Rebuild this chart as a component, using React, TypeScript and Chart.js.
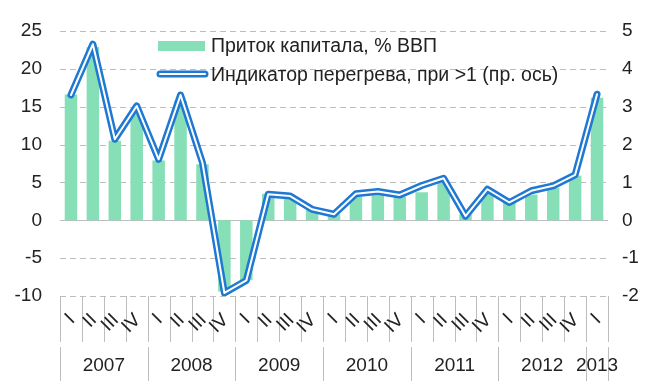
import React, { useEffect, useRef } from "react";
import { Chart, registerables } from "chart.js";

Chart.register(...registerables);

const quarters = [
  "I", "II", "III", "IV",
  "I", "II", "III", "IV",
  "I", "II", "III", "IV",
  "I", "II", "III", "IV",
  "I", "II", "III", "IV",
  "I", "II", "III", "IV",
  "I",
];
const years = ["2007", "2008", "2009", "2010", "2011", "2012", "2013"];
const quartersPerYear = [4, 4, 4, 4, 4, 4, 1];

const capitalInflow = [
  16.6, 22.9, 10.5, 14.0, 7.9, 15.8, 7.4, -9.4, -7.9,
  3.5, 2.8, 1.4, 0.8, 3.1, 3.3, 3.1, 3.7, 5.0, 0.8, 3.9, 2.3, 3.4, 4.3, 5.9, 16.2,
];
const overheatIndicator = [
  3.31, 4.65, 2.14, 3.02, 1.61, 3.31, 1.52, -1.92, -1.59,
  0.69, 0.64, 0.29, 0.16, 0.7, 0.76, 0.67, 0.92, 1.11, 0.11, 0.82, 0.47, 0.78, 0.91, 1.2, 3.33,
];

const legendLabels = ["Приток капитала, % ВВП", "Индикатор перегрева, при >1 (пр. ось)"];

const FONT = "'Liberation Sans', Arial, sans-serif";
const GREEN = "#86dfb6";
const BLUE = "#1f78d1";
const TEXT = "#222222";
const GRID = "#bdbdbd";

const gridPlugin = {
  id: "customGrid",
  beforeDatasetsDraw(chart: any) {
    const { ctx, chartArea, scales } = chart;
    const y = scales.y;
    ctx.save();
    ctx.lineWidth = 1;
    ctx.strokeStyle = GRID;
    y.ticks.forEach((t: any) => {
      const py = Math.round(y.getPixelForValue(t.value)) + 0.5;
      ctx.setLineDash(t.value === 0 ? [] : [6, 4]);
      ctx.beginPath();
      ctx.moveTo(chartArea.left, py);
      ctx.lineTo(chartArea.right, py);
      ctx.stroke();
    });
    ctx.restore();
  },
};

const axisPlugin = {
  id: "twoLevelAxis",
  afterDraw(chart: any) {
    const { ctx, chartArea, scales } = chart;
    const x = scales.x;
    const step = x.getPixelForValue(1) - x.getPixelForValue(0);
    const b = (i: number) => x.getPixelForValue(i) - step / 2;
    const top = chartArea.bottom;
    ctx.save();
    ctx.strokeStyle = GRID;
    ctx.lineWidth = 1;
    ctx.setLineDash([]);
    for (let i = 0; i <= quarters.length; i++) {
      const px = Math.round(b(i)) + 0.5;
      ctx.beginPath();
      ctx.moveTo(px, top);
      ctx.lineTo(px, top + 46);
      ctx.stroke();
    }
    let idx = 0;
    const yearBounds = [0];
    quartersPerYear.forEach((q) => {
      idx += q;
      yearBounds.push(idx);
    });
    yearBounds.forEach((k) => {
      const px = Math.round(b(k)) + 0.5;
      ctx.beginPath();
      ctx.moveTo(px, top + 51);
      ctx.lineTo(px, top + 85);
      ctx.stroke();
    });
    ctx.fillStyle = TEXT;
    ctx.font = `19px ${FONT}`;
    quarters.forEach((q, i) => {
      const px = x.getPixelForValue(i);
      ctx.save();
      ctx.translate(px + 1, top + 21);
      ctx.rotate(-Math.PI / 4);
      ctx.textAlign = "right";
      ctx.textBaseline = "middle";
      ctx.fillText(q, 0, 0);
      ctx.restore();
    });
    ctx.textAlign = "center";
    ctx.textBaseline = "middle";
    years.forEach((yr, i) => {
      const cx = (b(yearBounds[i]) + b(yearBounds[i + 1])) / 2;
      ctx.fillText(yr, cx, top + 70);
    });
    ctx.restore();
  },
};

const legendPlugin = {
  id: "customLegend",
  afterDraw(chart: any) {
    const { ctx } = chart;
    ctx.save();
    ctx.fillStyle = GREEN;
    ctx.fillRect(158, 41, 47, 10);
    ctx.lineCap = "round";
    ctx.lineJoin = "round";
    ctx.strokeStyle = BLUE;
    ctx.lineWidth = 7;
    ctx.beginPath();
    ctx.moveTo(160, 74);
    ctx.lineTo(205, 74);
    ctx.stroke();
    ctx.strokeStyle = "#ffffff";
    ctx.lineWidth = 2;
    ctx.beginPath();
    ctx.moveTo(160, 74);
    ctx.lineTo(205, 74);
    ctx.stroke();
    ctx.fillStyle = TEXT;
    ctx.font = `19.5px ${FONT}`;
    ctx.textAlign = "left";
    ctx.textBaseline = "middle";
    ctx.fillText(legendLabels[0], 211, 47);
    ctx.fillText(legendLabels[1], 211, 76);
    ctx.restore();
  },
};

export default function App() {
  const ref = useRef<HTMLCanvasElement | null>(null);
  useEffect(() => {
    document.body.style.margin = "0";
    const canvas = ref.current;
    if (!canvas) return;
    const chart = new Chart(canvas, {
      type: "bar",
      data: {
        labels: quarters.map((q, i) => `${q}-${i}`),
        datasets: [
          {
            type: "line",
            label: "inner",
            data: overheatIndicator,
            yAxisID: "y1",
            borderColor: "#ffffff",
            borderWidth: 2,
            pointRadius: 0,
            tension: 0,
            borderJoinStyle: "round",
            borderCapStyle: "round",
            order: 0,
          } as any,
          {
            type: "line",
            label: legendLabels[1],
            data: overheatIndicator,
            yAxisID: "y1",
            borderColor: BLUE,
            borderWidth: 7,
            pointRadius: 0,
            tension: 0,
            borderJoinStyle: "round",
            borderCapStyle: "round",
            order: 1,
          } as any,
          {
            type: "bar",
            label: legendLabels[0],
            data: capitalInflow,
            yAxisID: "y",
            backgroundColor: GREEN,
            borderWidth: 0,
            categoryPercentage: 1,
            barPercentage: 0.57,
            order: 2,
          } as any,
        ],
      },
      options: {
        animation: false,
        responsive: false,
        layout: { padding: { top: 31, bottom: 0, left: 0, right: 0 } },
        plugins: { legend: { display: false }, tooltip: { enabled: false } },
        scales: {
          x: {
            type: "category",
            grid: { display: false, drawTicks: false },
            border: { display: false },
            ticks: { display: false },
            afterFit: (s: any) => {
              s.height = 92;
            },
          },
          y: {
            position: "left",
            min: -10,
            max: 25,
            ticks: {
              stepSize: 5,
              padding: 18,
              color: TEXT,
              font: { family: FONT, size: 19 },
            },
            grid: { display: false, drawTicks: false },
            border: { display: false },
            afterFit: (s: any) => {
              s.width = 60;
            },
          },
          y1: {
            position: "right",
            min: -2,
            max: 5,
            ticks: {
              stepSize: 1,
              padding: 14,
              color: TEXT,
              font: { family: FONT, size: 19 },
            },
            grid: { display: false, drawTicks: false },
            border: { display: false },
            afterFit: (s: any) => {
              s.width = 42;
            },
          },
        },
      },
      plugins: [gridPlugin, axisPlugin, legendPlugin],
    });
    return () => chart.destroy();
  }, []);
  return (
    <div style={{ width: 650, height: 388, background: "#ffffff" }}>
      <canvas ref={ref} width={650} height={388} style={{ display: "block" }} />
    </div>
  );
}
